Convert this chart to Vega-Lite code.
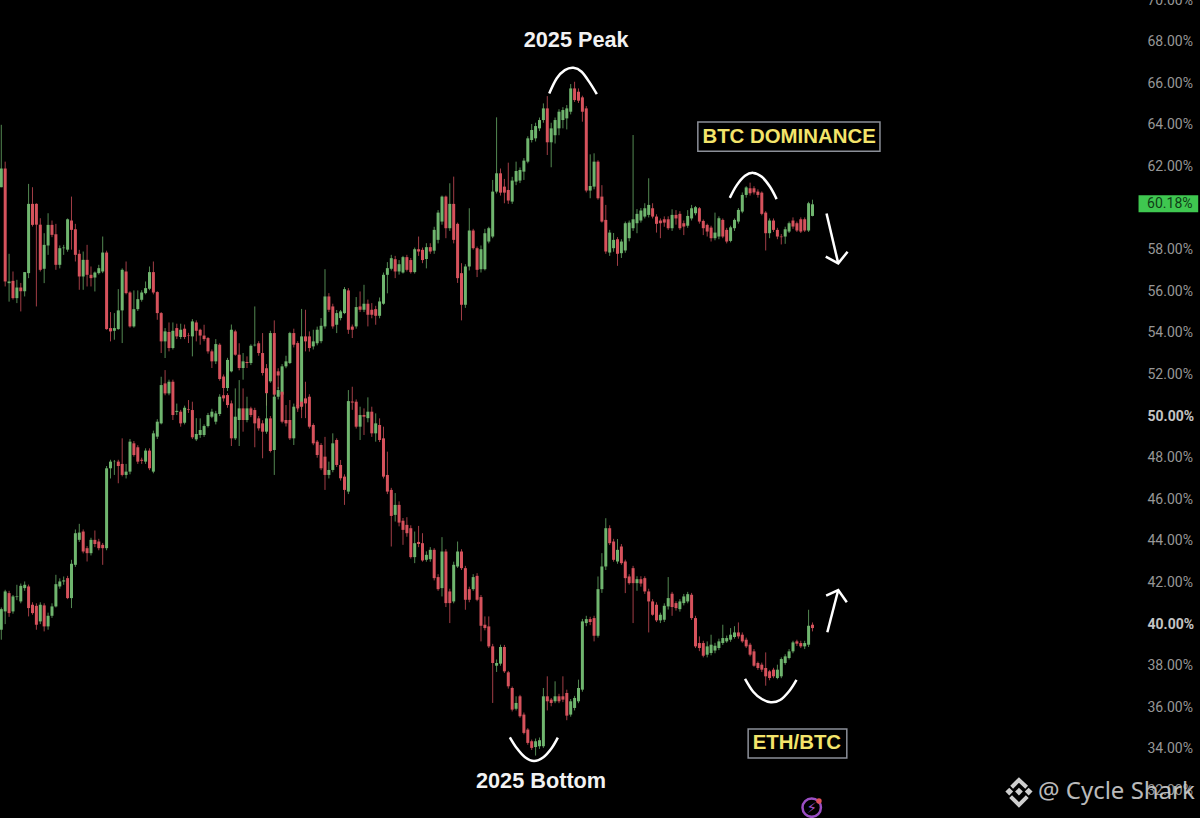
{
"$schema":"https://vega.github.io/schema/vega-lite/v6.json",
"width":1200,"height":818,"padding":0,"autosize":{"type":"none"},"background":"#000000",
"config":{"view":{"stroke":null}},
"datasets":{
"candles":[
{"series":"BTC","bar":0,"open":61.0,"close":61.9,"high":64.0,"low":61.0},
{"series":"BTC","bar":1,"open":61.9,"close":56.47,"high":62.23,"low":56.23},
{"series":"BTC","bar":2,"open":56.39,"close":56.47,"high":57.8,"low":55.5},
{"series":"BTC","bar":3,"open":56.5,"close":55.67,"high":56.95,"low":55.6},
{"series":"BTC","bar":4,"open":55.67,"close":56.18,"high":56.55,"low":55.43},
{"series":"BTC","bar":5,"open":56.18,"close":56.0,"high":56.4,"low":55.03},
{"series":"BTC","bar":6,"open":56.0,"close":56.92,"high":56.92,"low":55.75},
{"series":"BTC","bar":7,"open":56.87,"close":60.2,"high":61.16,"low":56.63},
{"series":"BTC","bar":8,"open":60.2,"close":59.19,"high":61.0,"low":59.11},
{"series":"BTC","bar":9,"open":60.2,"close":59.2,"high":60.23,"low":55.27},
{"series":"BTC","bar":10,"open":59.2,"close":57.03,"high":59.51,"low":56.95},
{"series":"BTC","bar":11,"open":57.08,"close":58.23,"high":58.79,"low":56.39},
{"series":"BTC","bar":12,"open":58.2,"close":59.19,"high":59.75,"low":57.75},
{"series":"BTC","bar":13,"open":59.19,"close":58.71,"high":59.4,"low":58.6},
{"series":"BTC","bar":14,"open":58.74,"close":57.27,"high":59.24,"low":57.03},
{"series":"BTC","bar":15,"open":57.27,"close":58.07,"high":58.2,"low":57.1},
{"series":"BTC","bar":16,"open":58.07,"close":58.1,"high":58.23,"low":57.75},
{"series":"BTC","bar":17,"open":58.0,"close":59.46,"high":59.5,"low":57.9},
{"series":"BTC","bar":18,"open":59.4,"close":58.95,"high":60.55,"low":58.0},
{"series":"BTC","bar":19,"open":58.98,"close":57.75,"high":59.24,"low":57.43},
{"series":"BTC","bar":20,"open":57.8,"close":56.71,"high":57.99,"low":56.07},
{"series":"BTC","bar":21,"open":56.71,"close":57.51,"high":57.91,"low":56.07},
{"series":"BTC","bar":22,"open":57.51,"close":56.79,"high":58.23,"low":56.23},
{"series":"BTC","bar":23,"open":56.79,"close":56.63,"high":57.19,"low":56.23},
{"series":"BTC","bar":24,"open":56.66,"close":56.9,"high":56.95,"low":55.99},
{"series":"BTC","bar":25,"open":56.87,"close":57.11,"high":57.27,"low":56.8},
{"series":"BTC","bar":26,"open":56.95,"close":57.86,"high":58.63,"low":56.87},
{"series":"BTC","bar":27,"open":57.86,"close":54.18,"high":57.95,"low":54.15},
{"series":"BTC","bar":28,"open":54.23,"close":54.07,"high":55.0,"low":53.59},
{"series":"BTC","bar":29,"open":54.1,"close":54.23,"high":54.95,"low":53.67},
{"series":"BTC","bar":30,"open":54.18,"close":55.08,"high":56.1,"low":54.15},
{"series":"BTC","bar":31,"open":55.08,"close":57.03,"high":57.1,"low":53.51},
{"series":"BTC","bar":32,"open":56.95,"close":55.91,"high":57.43,"low":55.85},
{"series":"BTC","bar":33,"open":55.94,"close":54.31,"high":56.0,"low":54.25},
{"series":"BTC","bar":34,"open":54.31,"close":55.14,"high":56.04,"low":54.25},
{"series":"BTC","bar":35,"open":55.14,"close":55.62,"high":56.04,"low":55.05},
{"series":"BTC","bar":36,"open":55.59,"close":55.94,"high":56.05,"low":55.5},
{"series":"BTC","bar":37,"open":55.91,"close":56.15,"high":56.47,"low":55.85},
{"series":"BTC","bar":38,"open":56.12,"close":56.92,"high":57.19,"low":56.05},
{"series":"BTC","bar":39,"open":56.92,"close":55.94,"high":57.43,"low":55.85},
{"series":"BTC","bar":40,"open":55.96,"close":54.95,"high":56.0,"low":54.63},
{"series":"BTC","bar":41,"open":54.95,"close":53.59,"high":55.0,"low":53.03},
{"series":"BTC","bar":42,"open":53.59,"close":54.07,"high":54.23,"low":52.79},
{"series":"BTC","bar":43,"open":54.04,"close":53.27,"high":54.5,"low":53.11},
{"series":"BTC","bar":44,"open":53.27,"close":54.1,"high":54.5,"low":53.2},
{"series":"BTC","bar":45,"open":54.23,"close":53.83,"high":54.44,"low":53.7},
{"series":"BTC","bar":46,"open":53.8,"close":54.15,"high":54.44,"low":53.7},
{"series":"BTC","bar":47,"open":54.2,"close":53.8,"high":54.4,"low":53.7},
{"series":"BTC","bar":48,"open":53.87,"close":53.85,"high":54.0,"low":53.51},
{"series":"BTC","bar":49,"open":53.83,"close":54.55,"high":54.66,"low":52.87},
{"series":"BTC","bar":50,"open":54.5,"close":54.1,"high":54.6,"low":53.59},
{"series":"BTC","bar":51,"open":54.15,"close":53.87,"high":54.2,"low":53.43},
{"series":"BTC","bar":52,"open":53.87,"close":53.7,"high":54.39,"low":53.6},
{"series":"BTC","bar":53,"open":53.75,"close":53.11,"high":53.8,"low":53.0},
{"series":"BTC","bar":54,"open":53.11,"close":52.63,"high":53.2,"low":52.31},
{"series":"BTC","bar":55,"open":52.63,"close":53.46,"high":53.7,"low":52.5},
{"series":"BTC","bar":56,"open":53.43,"close":51.78,"high":53.5,"low":51.7},
{"series":"BTC","bar":57,"open":51.9,"close":51.35,"high":52.0,"low":51.2},
{"series":"BTC","bar":58,"open":51.35,"close":52.7,"high":52.8,"low":51.2},
{"series":"BTC","bar":59,"open":52.15,"close":54.15,"high":54.4,"low":52.1},
{"series":"BTC","bar":60,"open":54.07,"close":52.95,"high":54.15,"low":52.9},
{"series":"BTC","bar":61,"open":52.95,"close":52.31,"high":53.5,"low":52.2},
{"series":"BTC","bar":62,"open":52.31,"close":52.63,"high":53.03,"low":51.75},
{"series":"BTC","bar":63,"open":52.6,"close":52.55,"high":52.87,"low":52.31},
{"series":"BTC","bar":64,"open":52.55,"close":53.38,"high":53.45,"low":52.45},
{"series":"BTC","bar":65,"open":53.4,"close":53.43,"high":55.27,"low":53.35},
{"series":"BTC","bar":66,"open":53.5,"close":53.03,"high":53.6,"low":52.9},
{"series":"BTC","bar":67,"open":53.03,"close":52.07,"high":53.99,"low":51.95},
{"series":"BTC","bar":68,"open":52.3,"close":51.1,"high":52.5,"low":50.5},
{"series":"BTC","bar":69,"open":51.67,"close":53.99,"high":54.1,"low":51.6},
{"series":"BTC","bar":70,"open":53.99,"close":51.03,"high":54.6,"low":50.9},
{"series":"BTC","bar":71,"open":52.15,"close":51.95,"high":52.3,"low":51.3},
{"series":"BTC","bar":72,"open":51.03,"close":52.39,"high":52.5,"low":50.95},
{"series":"BTC","bar":73,"open":52.39,"close":52.63,"high":52.9,"low":52.3},
{"series":"BTC","bar":74,"open":52.55,"close":53.99,"high":54.05,"low":52.5},
{"series":"BTC","bar":75,"open":53.99,"close":53.43,"high":54.2,"low":53.3},
{"series":"BTC","bar":76,"open":53.51,"close":50.47,"high":53.6,"low":50.3},
{"series":"BTC","bar":77,"open":50.47,"close":53.83,"high":55.15,"low":50.3},
{"series":"BTC","bar":78,"open":53.83,"close":53.59,"high":55.11,"low":53.11},
{"series":"BTC","bar":79,"open":53.83,"close":53.27,"high":54.07,"low":53.1},
{"series":"BTC","bar":80,"open":53.35,"close":53.59,"high":54.15,"low":53.2},
{"series":"BTC","bar":81,"open":53.5,"close":54.15,"high":54.3,"low":53.4},
{"series":"BTC","bar":82,"open":53.6,"close":54.34,"high":54.71,"low":53.5},
{"series":"BTC","bar":83,"open":54.31,"close":55.75,"high":57.06,"low":54.2},
{"series":"BTC","bar":84,"open":55.75,"close":55.11,"high":55.91,"low":55.0},
{"series":"BTC","bar":85,"open":55.27,"close":54.31,"high":55.4,"low":54.2},
{"series":"BTC","bar":86,"open":54.39,"close":54.95,"high":55.1,"low":53.99},
{"series":"BTC","bar":87,"open":54.71,"close":55.03,"high":55.1,"low":54.6},
{"series":"BTC","bar":88,"open":54.95,"close":56.1,"high":56.2,"low":54.9},
{"series":"BTC","bar":89,"open":56.04,"close":54.15,"high":56.15,"low":53.95},
{"series":"BTC","bar":90,"open":54.3,"close":54.15,"high":54.4,"low":53.75},
{"series":"BTC","bar":91,"open":54.31,"close":55.24,"high":55.72,"low":54.2},
{"series":"BTC","bar":92,"open":55.27,"close":55.11,"high":55.99,"low":55.0},
{"series":"BTC","bar":93,"open":55.11,"close":55.4,"high":56.31,"low":55.0},
{"series":"BTC","bar":94,"open":55.4,"close":54.87,"high":55.6,"low":54.31},
{"series":"BTC","bar":95,"open":55.11,"close":54.87,"high":55.43,"low":54.7},
{"series":"BTC","bar":96,"open":55.14,"close":54.82,"high":55.3,"low":54.39},
{"series":"BTC","bar":97,"open":54.82,"close":55.51,"high":55.7,"low":54.7},
{"series":"BTC","bar":98,"open":55.4,"close":56.79,"high":56.9,"low":55.35},
{"series":"BTC","bar":99,"open":56.79,"close":57.11,"high":57.4,"low":55.9},
{"series":"BTC","bar":100,"open":57.08,"close":57.59,"high":57.75,"low":57.0},
{"series":"BTC","bar":101,"open":57.54,"close":56.95,"high":57.7,"low":56.63},
{"series":"BTC","bar":102,"open":56.95,"close":57.3,"high":57.5,"low":56.8},
{"series":"BTC","bar":103,"open":56.9,"close":57.64,"high":57.7,"low":56.85},
{"series":"BTC","bar":104,"open":57.64,"close":57.03,"high":57.75,"low":56.95},
{"series":"BTC","bar":105,"open":57.5,"close":56.92,"high":57.6,"low":56.85},
{"series":"BTC","bar":106,"open":56.92,"close":58.02,"high":58.1,"low":56.85},
{"series":"BTC","bar":107,"open":58.02,"close":57.91,"high":58.63,"low":57.7},
{"series":"BTC","bar":108,"open":57.99,"close":57.5,"high":58.1,"low":57.35},
{"series":"BTC","bar":109,"open":57.55,"close":58.12,"high":58.31,"low":57.1},
{"series":"BTC","bar":110,"open":58.12,"close":57.91,"high":58.31,"low":57.8},
{"series":"BTC","bar":111,"open":57.95,"close":58.95,"high":59.1,"low":57.8},
{"series":"BTC","bar":112,"open":58.47,"close":59.78,"high":59.9,"low":58.3},
{"series":"BTC","bar":113,"open":59.35,"close":60.55,"high":60.6,"low":59.2},
{"series":"BTC","bar":114,"open":60.55,"close":59.03,"high":60.6,"low":58.55},
{"series":"BTC","bar":115,"open":59.03,"close":60.2,"high":61.19,"low":58.9},
{"series":"BTC","bar":116,"open":60.2,"close":58.47,"high":61.51,"low":58.3},
{"series":"BTC","bar":117,"open":59.24,"close":56.63,"high":59.3,"low":56.4},
{"series":"BTC","bar":118,"open":56.87,"close":55.35,"high":57.35,"low":54.6},
{"series":"BTC","bar":119,"open":55.35,"close":57.19,"high":57.3,"low":55.2},
{"series":"BTC","bar":120,"open":57.19,"close":58.92,"high":59.99,"low":57.0},
{"series":"BTC","bar":121,"open":58.92,"close":58.07,"high":59.0,"low":58.0},
{"series":"BTC","bar":122,"open":58.07,"close":57.03,"high":58.15,"low":56.68},
{"series":"BTC","bar":123,"open":57.06,"close":58.02,"high":58.2,"low":56.9},
{"series":"BTC","bar":124,"open":57.06,"close":58.79,"high":59.0,"low":57.0},
{"series":"BTC","bar":125,"open":58.39,"close":59.03,"high":59.1,"low":58.3},
{"series":"BTC","bar":126,"open":58.63,"close":60.79,"high":61.35,"low":58.55},
{"series":"BTC","bar":127,"open":60.79,"close":61.67,"high":64.36,"low":60.7},
{"series":"BTC","bar":128,"open":61.67,"close":60.74,"high":61.9,"low":60.6},
{"series":"BTC","bar":129,"open":61.03,"close":60.74,"high":61.4,"low":60.23},
{"series":"BTC","bar":130,"open":60.87,"close":60.36,"high":62.18,"low":60.2},
{"series":"BTC","bar":131,"open":60.31,"close":61.32,"high":61.5,"low":60.2},
{"series":"BTC","bar":132,"open":61.27,"close":61.78,"high":62.23,"low":61.1},
{"series":"BTC","bar":133,"open":61.32,"close":61.83,"high":61.95,"low":61.2},
{"series":"BTC","bar":134,"open":61.75,"close":62.28,"high":62.4,"low":61.35},
{"series":"BTC","bar":135,"open":62.23,"close":63.35,"high":63.45,"low":62.15},
{"series":"BTC","bar":136,"open":63.27,"close":63.75,"high":64.04,"low":63.15},
{"series":"BTC","bar":137,"open":63.35,"close":63.94,"high":64.1,"low":63.2},
{"series":"BTC","bar":138,"open":63.83,"close":64.23,"high":64.35,"low":63.7},
{"series":"BTC","bar":139,"open":64.23,"close":64.79,"high":65.03,"low":64.1},
{"series":"BTC","bar":140,"open":64.79,"close":63.16,"high":65.38,"low":62.55},
{"series":"BTC","bar":141,"open":63.16,"close":63.83,"high":64.1,"low":61.96},
{"series":"BTC","bar":142,"open":63.5,"close":64.23,"high":64.35,"low":63.1},
{"series":"BTC","bar":143,"open":63.83,"close":64.63,"high":64.75,"low":63.5},
{"series":"BTC","bar":144,"open":64.23,"close":64.71,"high":64.85,"low":63.83},
{"series":"BTC","bar":145,"open":64.31,"close":64.79,"high":64.95,"low":63.78},
{"series":"BTC","bar":146,"open":64.63,"close":65.75,"high":65.96,"low":64.5},
{"series":"BTC","bar":147,"open":65.75,"close":65.19,"high":66.07,"low":65.1},
{"series":"BTC","bar":148,"open":65.59,"close":65.16,"high":65.75,"low":65.05},
{"series":"BTC","bar":149,"open":65.32,"close":64.63,"high":65.4,"low":64.15},
{"series":"BTC","bar":150,"open":64.79,"close":60.84,"high":64.9,"low":60.75},
{"series":"BTC","bar":151,"open":60.84,"close":61.06,"high":62.58,"low":60.47},
{"series":"BTC","bar":152,"open":61.03,"close":62.23,"high":62.63,"low":60.9},
{"series":"BTC","bar":153,"open":62.23,"close":60.47,"high":62.3,"low":60.4},
{"series":"BTC","bar":154,"open":60.55,"close":59.35,"high":61.1,"low":59.3},
{"series":"BTC","bar":155,"open":59.43,"close":57.91,"high":60.15,"low":57.8},
{"series":"BTC","bar":156,"open":57.86,"close":58.82,"high":58.95,"low":57.7},
{"series":"BTC","bar":157,"open":58.07,"close":58.47,"high":58.8,"low":57.9},
{"series":"BTC","bar":158,"open":58.5,"close":57.8,"high":58.6,"low":57.22},
{"series":"BTC","bar":159,"open":57.83,"close":58.39,"high":58.5,"low":57.6},
{"series":"BTC","bar":160,"open":57.96,"close":59.27,"high":59.35,"low":57.85},
{"series":"BTC","bar":161,"open":58.55,"close":59.3,"high":59.4,"low":58.4},
{"series":"BTC","bar":162,"open":59.03,"close":59.46,"high":63.51,"low":58.9},
{"series":"BTC","bar":163,"open":59.27,"close":59.72,"high":59.95,"low":58.79},
{"series":"BTC","bar":164,"open":59.4,"close":59.88,"high":60.0,"low":59.3},
{"series":"BTC","bar":165,"open":59.59,"close":59.99,"high":60.23,"low":59.5},
{"series":"BTC","bar":166,"open":59.67,"close":60.15,"high":61.43,"low":59.55},
{"series":"BTC","bar":167,"open":59.99,"close":59.59,"high":60.23,"low":59.5},
{"series":"BTC","bar":168,"open":59.59,"close":59.24,"high":59.7,"low":58.82},
{"series":"BTC","bar":169,"open":59.4,"close":59.27,"high":59.5,"low":58.55},
{"series":"BTC","bar":170,"open":59.46,"close":59.3,"high":59.6,"low":59.1},
{"series":"BTC","bar":171,"open":59.46,"close":59.03,"high":59.6,"low":58.95},
{"series":"BTC","bar":172,"open":59.03,"close":59.67,"high":59.94,"low":58.9},
{"series":"BTC","bar":173,"open":59.67,"close":59.5,"high":59.9,"low":59.2},
{"series":"BTC","bar":174,"open":59.72,"close":59.03,"high":59.85,"low":58.95},
{"series":"BTC","bar":175,"open":59.27,"close":59.11,"high":59.4,"low":58.7},
{"series":"BTC","bar":176,"open":59.15,"close":59.62,"high":59.9,"low":59.05},
{"series":"BTC","bar":177,"open":59.5,"close":59.99,"high":60.15,"low":59.4},
{"series":"BTC","bar":178,"open":59.75,"close":60.04,"high":60.1,"low":59.65},
{"series":"BTC","bar":179,"open":59.99,"close":59.35,"high":60.05,"low":59.25},
{"series":"BTC","bar":180,"open":59.38,"close":59.03,"high":59.45,"low":58.7},
{"series":"BTC","bar":181,"open":59.19,"close":58.87,"high":59.25,"low":58.63},
{"series":"BTC","bar":182,"open":59.06,"close":58.55,"high":59.15,"low":58.39},
{"series":"BTC","bar":183,"open":58.55,"close":58.82,"high":59.78,"low":58.45},
{"series":"BTC","bar":184,"open":58.63,"close":59.51,"high":59.6,"low":58.5},
{"series":"BTC","bar":185,"open":59.43,"close":58.63,"high":59.5,"low":58.55},
{"series":"BTC","bar":186,"open":58.95,"close":58.39,"high":59.05,"low":58.3},
{"series":"BTC","bar":187,"open":58.42,"close":59.07,"high":59.15,"low":58.35},
{"series":"BTC","bar":188,"open":59.03,"close":59.43,"high":59.5,"low":58.9},
{"series":"BTC","bar":189,"open":59.35,"close":59.91,"high":60.0,"low":59.25},
{"series":"BTC","bar":190,"open":59.83,"close":60.63,"high":60.75,"low":59.75},
{"series":"BTC","bar":191,"open":60.63,"close":60.99,"high":61.05,"low":60.5},
{"series":"BTC","bar":192,"open":60.95,"close":60.71,"high":61.22,"low":60.6},
{"series":"BTC","bar":193,"open":60.95,"close":60.75,"high":61.05,"low":60.65},
{"series":"BTC","bar":194,"open":60.79,"close":60.63,"high":60.9,"low":60.5},
{"series":"BTC","bar":195,"open":60.74,"close":59.72,"high":60.8,"low":59.65},
{"series":"BTC","bar":196,"open":59.78,"close":58.79,"high":59.85,"low":57.96},
{"series":"BTC","bar":197,"open":58.79,"close":59.4,"high":59.5,"low":58.55},
{"series":"BTC","bar":198,"open":59.4,"close":58.95,"high":59.5,"low":58.85},
{"series":"BTC","bar":199,"open":58.95,"close":58.63,"high":59.05,"low":58.5},
{"series":"BTC","bar":200,"open":58.63,"close":58.6,"high":58.75,"low":58.25},
{"series":"BTC","bar":201,"open":58.63,"close":58.98,"high":59.1,"low":58.28},
{"series":"BTC","bar":202,"open":58.87,"close":59.27,"high":59.35,"low":58.8},
{"series":"BTC","bar":203,"open":59.4,"close":59.11,"high":59.55,"low":59.0},
{"series":"BTC","bar":204,"open":59.27,"close":58.92,"high":59.35,"low":58.85},
{"series":"BTC","bar":205,"open":59.46,"close":58.87,"high":59.55,"low":58.8},
{"series":"BTC","bar":206,"open":59.46,"close":58.92,"high":59.55,"low":58.85},
{"series":"BTC","bar":207,"open":58.92,"close":60.23,"high":60.3,"low":58.85},
{"series":"BTC","bar":208,"open":59.62,"close":60.18,"high":60.4,"low":59.6},
{"series":"ETH","bar":0,"open":39.73,"close":40.72,"high":40.8,"low":39.25},
{"series":"ETH","bar":1,"open":40.61,"close":41.57,"high":41.65,"low":40.0},
{"series":"ETH","bar":2,"open":41.49,"close":40.53,"high":41.6,"low":40.35},
{"series":"ETH","bar":3,"open":40.61,"close":41.33,"high":41.4,"low":40.5},
{"series":"ETH","bar":4,"open":41.3,"close":41.33,"high":41.89,"low":41.15},
{"series":"ETH","bar":5,"open":41.09,"close":41.84,"high":41.95,"low":41.0},
{"series":"ETH","bar":6,"open":41.73,"close":41.89,"high":42.05,"low":41.6},
{"series":"ETH","bar":7,"open":41.81,"close":40.77,"high":41.9,"low":40.37},
{"series":"ETH","bar":8,"open":40.93,"close":40.53,"high":41.05,"low":40.45},
{"series":"ETH","bar":9,"open":40.88,"close":39.97,"high":41.0,"low":39.73},
{"series":"ETH","bar":10,"open":40.13,"close":40.93,"high":41.05,"low":40.0},
{"series":"ETH","bar":11,"open":40.9,"close":39.89,"high":41.0,"low":39.65},
{"series":"ETH","bar":12,"open":39.89,"close":40.4,"high":40.55,"low":39.73},
{"series":"ETH","bar":13,"open":40.4,"close":40.85,"high":41.0,"low":40.3},
{"series":"ETH","bar":14,"open":40.85,"close":41.92,"high":42.37,"low":40.8},
{"series":"ETH","bar":15,"open":41.81,"close":42.05,"high":42.2,"low":41.7},
{"series":"ETH","bar":16,"open":42.05,"close":42.1,"high":42.29,"low":41.89},
{"series":"ETH","bar":17,"open":42.21,"close":41.25,"high":42.32,"low":41.2},
{"series":"ETH","bar":18,"open":41.25,"close":42.9,"high":43.09,"low":40.77},
{"series":"ETH","bar":19,"open":42.85,"close":44.37,"high":44.55,"low":42.75},
{"series":"ETH","bar":20,"open":44.05,"close":44.4,"high":44.82,"low":43.95},
{"series":"ETH","bar":21,"open":44.45,"close":43.49,"high":44.55,"low":43.4},
{"series":"ETH","bar":22,"open":43.65,"close":43.41,"high":43.75,"low":43.01},
{"series":"ETH","bar":23,"open":43.41,"close":44.05,"high":44.15,"low":43.3},
{"series":"ETH","bar":24,"open":44.05,"close":43.85,"high":44.5,"low":43.7},
{"series":"ETH","bar":25,"open":43.97,"close":43.65,"high":44.1,"low":43.55},
{"series":"ETH","bar":26,"open":43.81,"close":43.65,"high":43.9,"low":42.85},
{"series":"ETH","bar":27,"open":43.65,"close":47.49,"high":47.6,"low":43.55},
{"series":"ETH","bar":28,"open":47.49,"close":47.81,"high":47.9,"low":47.0},
{"series":"ETH","bar":29,"open":47.8,"close":47.81,"high":47.89,"low":47.17},
{"series":"ETH","bar":30,"open":47.81,"close":47.6,"high":47.9,"low":46.77},
{"series":"ETH","bar":31,"open":47.7,"close":47.17,"high":48.93,"low":47.1},
{"series":"ETH","bar":32,"open":47.17,"close":47.33,"high":47.7,"low":47.0},
{"series":"ETH","bar":33,"open":47.33,"close":48.77,"high":48.9,"low":47.2},
{"series":"ETH","bar":34,"open":48.69,"close":48.13,"high":48.8,"low":48.05},
{"series":"ETH","bar":35,"open":48.5,"close":47.81,"high":48.6,"low":47.7},
{"series":"ETH","bar":36,"open":47.9,"close":47.85,"high":48.0,"low":47.7},
{"series":"ETH","bar":37,"open":47.81,"close":48.34,"high":48.45,"low":47.7},
{"series":"ETH","bar":38,"open":48.34,"close":47.49,"high":48.45,"low":47.4},
{"series":"ETH","bar":39,"open":47.33,"close":49.17,"high":49.3,"low":47.25},
{"series":"ETH","bar":40,"open":49.01,"close":49.73,"high":49.85,"low":48.9},
{"series":"ETH","bar":41,"open":49.65,"close":51.49,"high":51.89,"low":49.6},
{"series":"ETH","bar":42,"open":51.57,"close":51.09,"high":52.21,"low":51.0},
{"series":"ETH","bar":43,"open":51.09,"close":51.65,"high":51.75,"low":51.0},
{"series":"ETH","bar":44,"open":51.65,"close":50.05,"high":51.75,"low":49.81},
{"series":"ETH","bar":45,"open":50.2,"close":50.25,"high":50.6,"low":50.05},
{"series":"ETH","bar":46,"open":50.21,"close":49.65,"high":50.3,"low":49.49},
{"series":"ETH","bar":47,"open":49.68,"close":50.4,"high":50.5,"low":49.6},
{"series":"ETH","bar":48,"open":50.33,"close":50.3,"high":50.77,"low":50.15},
{"series":"ETH","bar":49,"open":50.29,"close":48.98,"high":50.69,"low":48.9},
{"series":"ETH","bar":50,"open":48.88,"close":49.14,"high":49.9,"low":48.8},
{"series":"ETH","bar":51,"open":49.09,"close":49.33,"high":49.89,"low":48.95},
{"series":"ETH","bar":52,"open":49.09,"close":49.52,"high":49.6,"low":49.0},
{"series":"ETH","bar":53,"open":49.52,"close":50.05,"high":50.15,"low":49.45},
{"series":"ETH","bar":54,"open":49.97,"close":50.21,"high":50.35,"low":49.9},
{"series":"ETH","bar":55,"open":49.73,"close":50.13,"high":50.25,"low":49.6},
{"series":"ETH","bar":56,"open":50.1,"close":50.93,"high":51.05,"low":50.0},
{"series":"ETH","bar":57,"open":51.0,"close":50.85,"high":51.2,"low":50.7},
{"series":"ETH","bar":58,"open":51.01,"close":50.53,"high":51.1,"low":50.4},
{"series":"ETH","bar":59,"open":50.61,"close":48.93,"high":50.75,"low":48.56},
{"series":"ETH","bar":60,"open":48.93,"close":49.97,"high":51.33,"low":48.85},
{"series":"ETH","bar":61,"open":49.81,"close":50.37,"high":51.73,"low":48.56},
{"series":"ETH","bar":62,"open":50.37,"close":49.81,"high":51.33,"low":49.25},
{"series":"ETH","bar":63,"open":49.81,"close":50.37,"high":50.93,"low":49.7},
{"series":"ETH","bar":64,"open":50.37,"close":50.05,"high":50.45,"low":49.95},
{"series":"ETH","bar":65,"open":50.29,"close":49.65,"high":50.4,"low":48.5},
{"series":"ETH","bar":66,"open":49.89,"close":49.41,"high":50.0,"low":49.3},
{"series":"ETH","bar":67,"open":49.65,"close":49.25,"high":49.8,"low":47.97},
{"series":"ETH","bar":68,"open":49.25,"close":49.89,"high":51.89,"low":49.15},
{"series":"ETH","bar":69,"open":49.89,"close":48.32,"high":50.0,"low":48.25},
{"series":"ETH","bar":70,"open":48.37,"close":50.93,"high":51.1,"low":47.17},
{"series":"ETH","bar":71,"open":50.93,"close":51.25,"high":51.4,"low":50.8},
{"series":"ETH","bar":72,"open":51.17,"close":49.73,"high":51.3,"low":49.65},
{"series":"ETH","bar":73,"open":49.81,"close":49.65,"high":50.53,"low":49.5},
{"series":"ETH","bar":74,"open":49.81,"close":48.93,"high":50.77,"low":48.85},
{"series":"ETH","bar":75,"open":48.93,"close":50.45,"high":50.6,"low":48.61},
{"series":"ETH","bar":76,"open":50.53,"close":50.37,"high":50.75,"low":50.2},
{"series":"ETH","bar":77,"open":50.69,"close":50.45,"high":50.8,"low":49.9},
{"series":"ETH","bar":78,"open":50.85,"close":50.61,"high":51.65,"low":49.9},
{"series":"ETH","bar":79,"open":50.93,"close":49.49,"high":51.05,"low":49.4},
{"series":"ETH","bar":80,"open":49.57,"close":48.69,"high":49.65,"low":48.6},
{"series":"ETH","bar":81,"open":48.77,"close":48.13,"high":48.85,"low":48.0},
{"series":"ETH","bar":82,"open":48.61,"close":47.49,"high":48.7,"low":47.4},
{"series":"ETH","bar":83,"open":48.05,"close":47.17,"high":49.0,"low":46.45},
{"series":"ETH","bar":84,"open":47.17,"close":47.41,"high":47.81,"low":47.0},
{"series":"ETH","bar":85,"open":47.41,"close":48.69,"high":49.17,"low":47.3},
{"series":"ETH","bar":86,"open":48.85,"close":47.65,"high":48.93,"low":47.55},
{"series":"ETH","bar":87,"open":47.65,"close":47.01,"high":47.89,"low":46.9},
{"series":"ETH","bar":88,"open":47.09,"close":46.45,"high":47.2,"low":45.73},
{"series":"ETH","bar":89,"open":46.37,"close":50.72,"high":51.25,"low":46.25},
{"series":"ETH","bar":90,"open":50.7,"close":50.65,"high":51.41,"low":50.3},
{"series":"ETH","bar":91,"open":50.69,"close":49.49,"high":50.8,"low":49.4},
{"series":"ETH","bar":92,"open":49.49,"close":50.05,"high":50.45,"low":48.85},
{"series":"ETH","bar":93,"open":50.05,"close":49.97,"high":50.37,"low":49.09},
{"series":"ETH","bar":94,"open":49.9,"close":50.21,"high":50.9,"low":49.7},
{"series":"ETH","bar":95,"open":50.21,"close":49.17,"high":50.45,"low":49.0},
{"series":"ETH","bar":96,"open":49.17,"close":49.65,"high":50.13,"low":48.77},
{"series":"ETH","bar":97,"open":49.57,"close":48.85,"high":49.89,"low":48.75},
{"series":"ETH","bar":98,"open":48.93,"close":47.09,"high":49.49,"low":47.0},
{"series":"ETH","bar":99,"open":47.17,"close":46.37,"high":48.29,"low":46.25},
{"series":"ETH","bar":100,"open":46.45,"close":45.2,"high":46.55,"low":43.73},
{"series":"ETH","bar":101,"open":45.25,"close":45.73,"high":46.3,"low":44.93},
{"series":"ETH","bar":102,"open":45.73,"close":44.88,"high":45.9,"low":44.7},
{"series":"ETH","bar":103,"open":44.97,"close":44.53,"high":45.1,"low":43.81},
{"series":"ETH","bar":104,"open":44.77,"close":44.37,"high":45.14,"low":44.2},
{"series":"ETH","bar":105,"open":44.61,"close":43.22,"high":44.75,"low":43.15},
{"series":"ETH","bar":106,"open":43.22,"close":43.89,"high":44.45,"low":42.93},
{"series":"ETH","bar":107,"open":43.95,"close":43.85,"high":44.72,"low":43.7},
{"series":"ETH","bar":108,"open":43.89,"close":43.06,"high":44.37,"low":43.0},
{"series":"ETH","bar":109,"open":43.09,"close":43.33,"high":43.5,"low":43.0},
{"series":"ETH","bar":110,"open":43.12,"close":43.57,"high":43.7,"low":43.0},
{"series":"ETH","bar":111,"open":43.57,"close":42.21,"high":43.65,"low":42.1},
{"series":"ETH","bar":112,"open":42.26,"close":41.68,"high":42.4,"low":41.6},
{"series":"ETH","bar":113,"open":41.73,"close":43.49,"high":44.18,"low":41.33},
{"series":"ETH","bar":114,"open":43.49,"close":41.01,"high":43.6,"low":40.82},
{"series":"ETH","bar":115,"open":41.57,"close":41.01,"high":41.7,"low":40.05},
{"series":"ETH","bar":116,"open":41.09,"close":42.85,"high":43.0,"low":41.0},
{"series":"ETH","bar":117,"open":42.77,"close":43.49,"high":43.97,"low":42.7},
{"series":"ETH","bar":118,"open":43.49,"close":42.69,"high":43.6,"low":42.6},
{"series":"ETH","bar":119,"open":42.69,"close":41.17,"high":42.8,"low":40.69},
{"series":"ETH","bar":120,"open":41.68,"close":41.17,"high":41.8,"low":41.05},
{"series":"ETH","bar":121,"open":41.68,"close":42.26,"high":42.4,"low":41.6},
{"series":"ETH","bar":122,"open":42.32,"close":41.17,"high":42.45,"low":41.1},
{"series":"ETH","bar":123,"open":41.3,"close":39.92,"high":41.4,"low":39.17},
{"series":"ETH","bar":124,"open":39.97,"close":39.81,"high":40.37,"low":39.7},
{"series":"ETH","bar":125,"open":39.89,"close":38.93,"high":40.37,"low":38.85},
{"series":"ETH","bar":126,"open":38.93,"close":38.13,"high":39.05,"low":36.21},
{"series":"ETH","bar":127,"open":38.0,"close":38.13,"high":38.3,"low":37.7},
{"series":"ETH","bar":128,"open":38.1,"close":38.9,"high":39.01,"low":38.0},
{"series":"ETH","bar":129,"open":38.9,"close":37.73,"high":39.0,"low":37.65},
{"series":"ETH","bar":130,"open":37.68,"close":37.01,"high":37.75,"low":36.9},
{"series":"ETH","bar":131,"open":36.93,"close":35.89,"high":37.0,"low":35.8},
{"series":"ETH","bar":132,"open":35.93,"close":36.21,"high":36.53,"low":35.85},
{"series":"ETH","bar":133,"open":36.53,"close":35.57,"high":36.6,"low":35.5},
{"series":"ETH","bar":134,"open":35.65,"close":34.77,"high":35.75,"low":34.7},
{"series":"ETH","bar":135,"open":34.93,"close":34.29,"high":35.0,"low":34.2},
{"series":"ETH","bar":136,"open":34.37,"close":34.05,"high":34.45,"low":33.95},
{"series":"ETH","bar":137,"open":34.09,"close":34.37,"high":34.5,"low":33.68},
{"series":"ETH","bar":138,"open":34.13,"close":34.42,"high":34.55,"low":34.0},
{"series":"ETH","bar":139,"open":34.13,"close":36.53,"high":36.93,"low":34.05},
{"series":"ETH","bar":140,"open":36.53,"close":36.29,"high":37.49,"low":35.85},
{"series":"ETH","bar":141,"open":36.37,"close":36.21,"high":36.45,"low":36.05},
{"series":"ETH","bar":142,"open":36.29,"close":36.53,"high":37.25,"low":36.2},
{"series":"ETH","bar":143,"open":36.53,"close":36.29,"high":36.65,"low":36.2},
{"series":"ETH","bar":144,"open":36.53,"close":36.37,"high":37.49,"low":36.25},
{"series":"ETH","bar":145,"open":36.69,"close":35.6,"high":36.85,"low":35.38},
{"series":"ETH","bar":146,"open":35.65,"close":36.29,"high":36.4,"low":35.55},
{"series":"ETH","bar":147,"open":35.97,"close":36.45,"high":36.55,"low":35.85},
{"series":"ETH","bar":148,"open":36.29,"close":36.93,"high":37.33,"low":36.2},
{"series":"ETH","bar":149,"open":36.85,"close":40.13,"high":40.25,"low":36.75},
{"series":"ETH","bar":150,"open":40.05,"close":40.24,"high":40.4,"low":39.9},
{"series":"ETH","bar":151,"open":40.24,"close":40.1,"high":40.35,"low":39.95},
{"series":"ETH","bar":152,"open":40.29,"close":39.44,"high":40.4,"low":39.17},
{"series":"ETH","bar":153,"open":39.44,"close":41.68,"high":42.29,"low":39.35},
{"series":"ETH","bar":154,"open":41.68,"close":42.77,"high":43.41,"low":41.5},
{"series":"ETH","bar":155,"open":42.77,"close":44.61,"high":45.09,"low":42.6},
{"series":"ETH","bar":156,"open":44.61,"close":43.89,"high":44.75,"low":43.8},
{"series":"ETH","bar":157,"open":43.97,"close":43.09,"high":44.1,"low":43.0},
{"series":"ETH","bar":158,"open":43.01,"close":43.57,"high":44.09,"low":42.9},
{"series":"ETH","bar":159,"open":43.73,"close":42.93,"high":43.85,"low":42.85},
{"series":"ETH","bar":160,"open":43.01,"close":42.21,"high":43.1,"low":41.49},
{"series":"ETH","bar":161,"open":42.29,"close":41.97,"high":42.4,"low":41.9},
{"series":"ETH","bar":162,"open":42.69,"close":41.97,"high":42.8,"low":40.05},
{"series":"ETH","bar":163,"open":41.97,"close":42.16,"high":42.3,"low":41.6},
{"series":"ETH","bar":164,"open":42.16,"close":41.95,"high":42.3,"low":41.8},
{"series":"ETH","bar":165,"open":42.21,"close":41.57,"high":42.3,"low":41.45},
{"series":"ETH","bar":166,"open":41.57,"close":41.09,"high":41.7,"low":39.6},
{"series":"ETH","bar":167,"open":41.09,"close":40.45,"high":41.2,"low":40.4},
{"series":"ETH","bar":168,"open":40.93,"close":40.18,"high":41.05,"low":40.1},
{"series":"ETH","bar":169,"open":40.18,"close":40.45,"high":40.55,"low":40.05},
{"series":"ETH","bar":170,"open":40.21,"close":40.88,"high":41.0,"low":40.1},
{"series":"ETH","bar":171,"open":40.85,"close":41.25,"high":42.26,"low":40.7},
{"series":"ETH","bar":172,"open":41.46,"close":40.82,"high":41.55,"low":40.4},
{"series":"ETH","bar":173,"open":41.01,"close":40.77,"high":41.1,"low":40.65},
{"series":"ETH","bar":174,"open":40.72,"close":41.09,"high":41.2,"low":40.6},
{"series":"ETH","bar":175,"open":41.01,"close":41.33,"high":41.45,"low":40.9},
{"series":"ETH","bar":176,"open":41.09,"close":41.44,"high":41.55,"low":41.0},
{"series":"ETH","bar":177,"open":41.41,"close":40.29,"high":41.5,"low":40.2},
{"series":"ETH","bar":178,"open":40.29,"close":38.93,"high":40.4,"low":38.85},
{"series":"ETH","bar":179,"open":39.09,"close":38.85,"high":39.41,"low":38.7},
{"series":"ETH","bar":180,"open":39.09,"close":38.48,"high":39.2,"low":38.4},
{"series":"ETH","bar":181,"open":38.53,"close":38.93,"high":39.17,"low":38.4},
{"series":"ETH","bar":182,"open":38.61,"close":39.01,"high":39.49,"low":38.5},
{"series":"ETH","bar":183,"open":38.73,"close":38.96,"high":39.1,"low":38.6},
{"series":"ETH","bar":184,"open":38.85,"close":39.17,"high":39.3,"low":38.75},
{"series":"ETH","bar":185,"open":39.09,"close":39.33,"high":39.97,"low":39.0},
{"series":"ETH","bar":186,"open":39.17,"close":39.33,"high":39.45,"low":39.1},
{"series":"ETH","bar":187,"open":39.25,"close":39.49,"high":39.81,"low":39.15},
{"series":"ETH","bar":188,"open":39.38,"close":39.6,"high":39.9,"low":39.3},
{"series":"ETH","bar":189,"open":39.6,"close":39.41,"high":40.08,"low":39.3},
{"series":"ETH","bar":190,"open":39.49,"close":39.17,"high":39.6,"low":39.1},
{"series":"ETH","bar":191,"open":39.25,"close":38.93,"high":39.35,"low":38.85},
{"series":"ETH","bar":192,"open":39.01,"close":38.53,"high":39.1,"low":38.45},
{"series":"ETH","bar":193,"open":38.69,"close":38.0,"high":38.8,"low":37.95},
{"series":"ETH","bar":194,"open":38.13,"close":37.89,"high":38.2,"low":37.8},
{"series":"ETH","bar":195,"open":38.05,"close":37.81,"high":38.15,"low":37.7},
{"series":"ETH","bar":196,"open":37.89,"close":37.49,"high":38.64,"low":37.04},
{"series":"ETH","bar":197,"open":37.73,"close":37.41,"high":37.8,"low":37.3},
{"series":"ETH","bar":198,"open":37.81,"close":37.49,"high":37.9,"low":37.4},
{"series":"ETH","bar":199,"open":37.41,"close":37.81,"high":38.05,"low":37.35},
{"series":"ETH","bar":200,"open":37.49,"close":38.32,"high":38.4,"low":37.4},
{"series":"ETH","bar":201,"open":38.13,"close":38.45,"high":38.55,"low":38.05},
{"series":"ETH","bar":202,"open":38.37,"close":38.69,"high":38.8,"low":38.3},
{"series":"ETH","bar":203,"open":38.69,"close":39.12,"high":39.2,"low":38.6},
{"series":"ETH","bar":204,"open":39.17,"close":39.06,"high":39.25,"low":38.95},
{"series":"ETH","bar":205,"open":39.09,"close":38.93,"high":39.2,"low":38.85},
{"series":"ETH","bar":206,"open":38.93,"close":39.09,"high":39.2,"low":38.8},
{"series":"ETH","bar":207,"open":39.01,"close":39.92,"high":40.69,"low":38.9},
{"series":"ETH","bar":208,"open":39.97,"close":39.81,"high":40.08,"low":39.65}
],
"arcs":[
{"arc":"peak","bar":140.5,"pct":65.51},{"arc":"peak","bar":142.4,"pct":66.23},{"arc":"peak","bar":144.5,"pct":66.63},{"arc":"peak","bar":146.7,"pct":66.74},{"arc":"peak","bar":148.8,"pct":66.55},{"arc":"peak","bar":151,"pct":65.99},{"arc":"peak","bar":152.7,"pct":65.47},
{"arc":"top2","bar":186.8,"pct":60.49},{"arc":"top2","bar":188.6,"pct":61.1},{"arc":"top2","bar":190.7,"pct":61.55},{"arc":"top2","bar":192.8,"pct":61.69},{"arc":"top2","bar":195,"pct":61.5},{"arc":"top2","bar":197.1,"pct":61.02},{"arc":"top2","bar":198.8,"pct":60.43},
{"arc":"bottom","bar":130.4,"pct":34.56},{"arc":"bottom","bar":132.2,"pct":34.03},{"arc":"bottom","bar":134.3,"pct":33.6},{"arc":"bottom","bar":136.6,"pct":33.42},{"arc":"bottom","bar":139,"pct":33.6},{"arc":"bottom","bar":141.1,"pct":34.03},{"arc":"bottom","bar":142.7,"pct":34.54},
{"arc":"low2","bar":190.7,"pct":37.37},{"arc":"low2","bar":192.8,"pct":36.75},{"arc":"low2","bar":195,"pct":36.4},{"arc":"low2","bar":197.3,"pct":36.24},{"arc":"low2","bar":199.7,"pct":36.35},{"arc":"low2","bar":202.1,"pct":36.8},{"arc":"low2","bar":203.9,"pct":37.32}
],
"arrows":[
{"part":"downShaft","bar":211.6,"pct":59.74},{"part":"downShaft","bar":214.6,"pct":57.34},
{"part":"downHead","bar":211.4,"pct":57.66},{"part":"downHead","bar":214.6,"pct":57.34},{"part":"downHead","bar":217,"pct":57.9},
{"part":"upShaft","bar":211.8,"pct":39.61},{"part":"upShaft","bar":214.6,"pct":41.64},
{"part":"upHead","bar":211.5,"pct":41.37},{"part":"upHead","bar":214.6,"pct":41.64},{"part":"upHead","bar":216.8,"pct":41.05}
],
"logoLines":[
{"part":"top","bar":259.07,"pct":32.16},{"part":"top","bar":260.94,"pct":32.51},{"part":"top","bar":262.91,"pct":32.16},
{"part":"bottom","bar":258.8,"pct":31.71},{"part":"bottom","bar":260.94,"pct":31.31},{"part":"bottom","bar":263.07,"pct":31.71}
],
"logoDots":[{"bar":258.45,"pct":31.95},{"bar":260.94,"pct":31.95},{"bar":263.43,"pct":31.95}],
"boxes":[
{"name":"BTC DOMINANCE","bar":178.6,"bar2":225.3,"pct":64.13,"pct2":62.73},
{"name":"ETH/BTC","bar":191.5,"bar2":216.8,"pct":34.96,"pct2":33.57}
],
"tag":[{"bar":291.6,"bar2":306.9,"pct":60.62,"pct2":59.8}],
"whiteText":[{"bar":147.4,"pct":68.1,"label":"2025 Peak"},{"bar":138.4,"pct":32.46,"label":"2025 Bottom"}],
"yellowText":[{"bar":202,"pct":63.41,"label":"BTC DOMINANCE"},{"bar":204,"pct":34.27,"label":"ETH/BTC"}],
"tagText":[{"bar":293.8,"pct":60.21,"label":"60.18%"}],
"watermark":[{"bar":265.8,"pct":31.93,"label":"@ Cycle Shark"}],
"icon":[{"bar":207.8,"pct":31.18,"label":"⚡"}],
"iconDot":[{"bar":209.66,"pct":31.5}]
},
"encoding":{
"x":{"field":"bar","type":"quantitative","scale":{"domain":[-0.33,307.36],"nice":false,"zero":false},"axis":null},
"y":{"field":"pct","type":"quantitative","scale":{"domain":[30.68,70],"nice":false,"zero":false},
"axis":{"orient":"right","offset":-53,"title":null,"grid":false,"domain":false,"ticks":false,"labelPadding":0,"values":[32,34,36,38,40,42,44,46,48,50,52,54,56,58,62,64,66,68,70],"labelExpr":"format(datum.value,'.2f')+'%'","labelFont":"Roboto","labelFontSize":14,"labelAlign":"left","labelBound":false,"labelColor":{"condition":{"test":"datum.value===50||datum.value===40","value":"#c4c4c4"},"value":"#979797"},"labelFontWeight":{"condition":{"test":"datum.value===50||datum.value===40","value":"bold"},"value":"normal"}}}
},
"layer":[
{"data":{"name":"candles"},"mark":{"type":"rule","strokeWidth":1,"opacity":0.75},
"encoding":{"y":{"field":"high"},"y2":{"field":"low"},"color":{"condition":{"test":"datum.close>=datum.open","value":"#6fb56e"},"value":"#d6525c"}}},
{"data":{"name":"candles"},"mark":{"type":"rule","strokeWidth":3},
"encoding":{"y":{"field":"open"},"y2":{"field":"close"},"color":{"condition":{"test":"datum.close>=datum.open","value":"#6fb56e"},"value":"#d6525c"}}},
{"data":{"name":"arcs"},"mark":{"type":"line","interpolate":"cardinal","color":"#ffffff","strokeWidth":2.5},"encoding":{"detail":{"field":"arc"}}},
{"data":{"name":"arrows"},"mark":{"type":"line","color":"#ffffff","strokeWidth":2.5},"encoding":{"detail":{"field":"part"}}},
{"data":{"name":"boxes"},"mark":{"type":"rect","fill":"#000000","stroke":"#8b8f98","strokeWidth":1.5},"encoding":{"x2":{"field":"bar2"},"y2":{"field":"pct2"}}},
{"data":{"name":"tag"},"mark":{"type":"rect","fill":"#3fc750"},"encoding":{"x2":{"field":"bar2"},"y2":{"field":"pct2"}}},
{"data":{"name":"whiteText"},"mark":{"type":"text","font":"Liberation Sans","fontSize":21.7,"fontWeight":"bold","color":"#f2f2f2"},"encoding":{"text":{"field":"label"}}},
{"data":{"name":"yellowText"},"mark":{"type":"text","font":"Liberation Sans","fontSize":20.4,"fontWeight":"bold","color":"#f3e46a"},"encoding":{"text":{"field":"label"}}},
{"data":{"name":"tagText"},"mark":{"type":"text","font":"Roboto","fontSize":14,"align":"left","color":"#0f3d16"},"encoding":{"text":{"field":"label"}}},
{"data":{"name":"watermark"},"mark":{"type":"text","font":"Noto Sans","fontSize":24,"align":"left","color":"#cfcfcf","opacity":0.9},"encoding":{"text":{"field":"label"}}},
{"data":{"name":"logoLines"},"mark":{"type":"line","color":"#cfcfcf","strokeWidth":4},"encoding":{"detail":{"field":"part"}}},
{"data":{"name":"logoDots"},"mark":{"type":"point","shape":"diamond","filled":true,"size":60,"color":"#cfcfcf","opacity":1}},
{"data":{"name":"icon"},"mark":{"type":"point","shape":"circle","filled":false,"size":340,"color":"#9b4fc4","strokeWidth":2.5,"opacity":1}},
{"data":{"name":"icon"},"mark":{"type":"text","font":"DejaVu Sans","fontSize":15,"color":"#9b4fc4"},"encoding":{"text":{"field":"label"}}},
{"data":{"name":"iconDot"},"mark":{"type":"point","shape":"circle","filled":true,"size":30,"color":"#e0525a","opacity":1}}
]
}
